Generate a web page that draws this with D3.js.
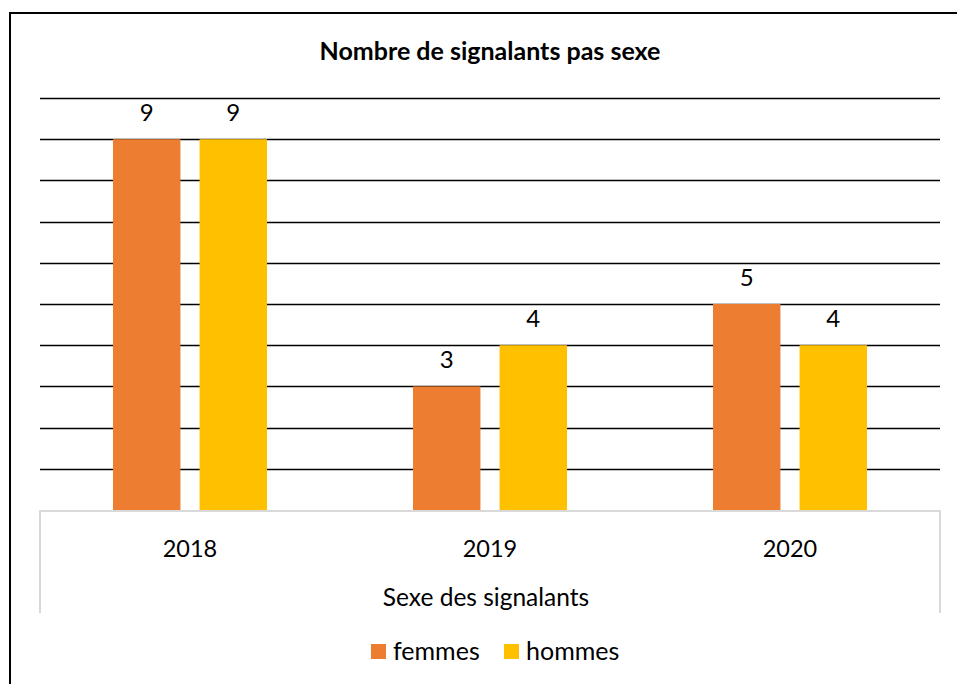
<!DOCTYPE html>
<html>
<head>
<meta charset="utf-8">
<script src="https://cdn.jsdelivr.net/npm/d3@7"></script>
<style>
  html, body { margin: 0; padding: 0; background: #fff; }
  svg { display: block; font-family: Lato, "Open Sans", sans-serif; }
</style>
</head>
<body>
<svg id="chart" width="957" height="684"></svg>
<script>
const categories = ["2018", "2019", "2020"];
const seriesNames = ["femmes", "hommes"];
const femmes = [9, 3, 5];
const hommes = [9, 4, 4];
const seriesColors = ["#ED7D31", "#FFC000"];
const yTicks = [1, 2, 3, 4, 5, 6, 7, 8, 9, 10];

const title = "Nombre de signalants pas sexe";
const xTitle = "Sexe des signalants";

const rows = categories.map((c, i) => ({ cat: c, femmes: femmes[i], hommes: hommes[i] }));

const svg = d3.select("#chart");
const W = 957, H = 684;
const plot = { left: 40, right: 940, top: 98, bottom: 510 };

// outer frame (left and top edges visible, right/bottom run off the canvas)
svg.append("rect")
  .attr("x", 10).attr("y", 13)
  .attr("width", W + 20).attr("height", H + 20)
  .attr("fill", "none").attr("stroke", "#000").attr("stroke-width", 2);

svg.append("text")
  .attr("x", (plot.left + plot.right) / 2).attr("y", 60)
  .attr("text-anchor", "middle")
  .attr("font-size", 25).attr("font-weight", "bold")
  .text(title);

const x0 = d3.scaleBand().domain(categories)
  .range([plot.left, plot.right]).paddingInner(0).paddingOuter(0);
const x1 = d3.scaleBand().domain(seriesNames)
  .range([73, 227]).paddingInner(19 / 86).paddingOuter(0);
const y = d3.scaleLinear().domain([0, 10]).range([plot.bottom, plot.top]);
const color = d3.scaleOrdinal().domain(seriesNames).range(seriesColors);

// horizontal gridlines
svg.append("g").selectAll("line").data(yTicks).join("line")
  .attr("x1", plot.left).attr("x2", plot.right)
  .attr("y1", d => Math.round(y(d)) + 0.5).attr("y2", d => Math.round(y(d)) + 0.5)
  .attr("stroke", "#000").attr("stroke-width", 1.3);

// bars
const groups = svg.append("g").selectAll("g").data(rows).join("g")
  .attr("transform", d => `translate(${x0(d.cat)},0)`);

groups.selectAll("rect").data(d => seriesNames.map(s => ({ s, v: d[s] }))).join("rect")
  .attr("x", d => x1(d.s))
  .attr("width", x1.bandwidth())
  .attr("y", d => y(d.v))
  .attr("height", d => y(0) - y(d.v))
  .attr("fill", d => color(d.s));

groups.selectAll("text").data(d => seriesNames.map(s => ({ s, v: d[s] }))).join("text")
  .attr("x", d => x1(d.s) + x1.bandwidth() / 2)
  .attr("y", d => y(d.v) - 18)
  .attr("text-anchor", "middle")
  .attr("font-size", 24).attr("fill", "#000")
  .text(d => d.v);

// category axis box
const axisBox = svg.append("g").attr("stroke", "#d9d9d9").attr("stroke-width", 2).attr("fill", "none");
axisBox.append("line").attr("x1", plot.left).attr("x2", plot.right)
  .attr("y1", plot.bottom + 1).attr("y2", plot.bottom + 1);
axisBox.append("line").attr("x1", plot.left).attr("x2", plot.left)
  .attr("y1", plot.bottom).attr("y2", 613);
axisBox.append("line").attr("x1", plot.right).attr("x2", plot.right)
  .attr("y1", plot.bottom).attr("y2", 613);

const xAxis = d3.axisBottom(x0).tickSize(0).tickPadding(0);
const gx = svg.append("g").attr("transform", `translate(0,${plot.bottom})`).call(xAxis);
gx.select(".domain").remove();
gx.selectAll("text")
  .attr("font-family", "Lato, 'Open Sans', sans-serif")
  .attr("font-size", 23.5).attr("fill", "#000")
  .attr("dy", 0).attr("y", 47);

svg.append("text")
  .attr("x", 486).attr("y", 606)
  .attr("text-anchor", "middle")
  .attr("font-size", 24.5).attr("fill", "#000")
  .text(xTitle);

// legend
const legendX = [371, 504];
const legend = svg.append("g").selectAll("g").data(seriesNames).join("g")
  .attr("transform", (d, i) => `translate(${legendX[i]},644)`);
legend.append("rect").attr("width", 15).attr("height", 15).attr("fill", d => color(d));
legend.append("text").attr("x", 22).attr("y", 16)
  .attr("font-size", 25).attr("fill", "#000").text(d => d);
</script>
</body>
</html>
